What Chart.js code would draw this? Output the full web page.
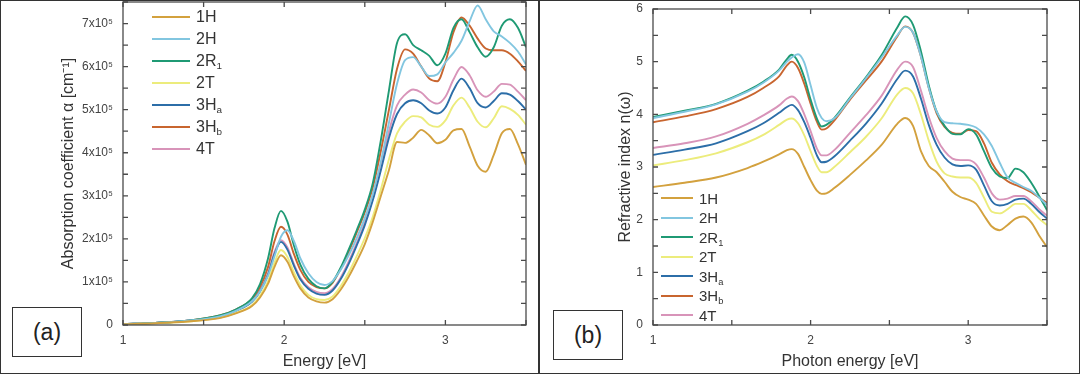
<!DOCTYPE html>
<html>
<head>
<meta charset="utf-8">
<script src="https://cdn.jsdelivr.net/npm/chart.js@4/dist/chart.umd.min.js"></script>
<style>
  body { margin: 0; background: #fff; font-family: "Liberation Sans", Arial, sans-serif; }
  #wrap { position: relative; width: 1080px; height: 374px; overflow: hidden; }
  canvas { position: absolute; top: 0; }
  .frame { position: absolute; top: 0; height: 374px; border: 1px solid #333; box-sizing: border-box; pointer-events: none; }
  .tag { position: absolute; border: 1.5px solid #333; box-sizing: border-box; font-size: 23px; color: #222;
         display: flex; align-items: center; justify-content: center; background: #fff; }
  .leg { position: absolute; color: #333; white-space: nowrap; }
  .leg .ln { position: absolute; height: 2px; }
  .leg .tx { position: absolute; line-height: 1; }
  .leg sub { font-size: 0.62em; vertical-align: -0.3em; }
</style>
</head>
<body>
<div id="wrap">
  <canvas id="chartA" width="539" height="374" style="left:0"></canvas>
  <canvas id="chartB" width="540" height="374" style="left:540px"></canvas>
  <div class="frame" style="left:0;width:539px"></div>
  <div class="frame" style="left:539px;width:541px"></div>
  <div class="tag" style="left:12px;top:307px;width:70px;height:50px">(a)</div>
  <div class="tag" style="left:553px;top:310px;width:70px;height:50px">(b)</div>
  <div id="legA"></div>
  <div id="legB"></div>
</div>
<script>
// ---------------- DATA ----------------

const seriesNames = ["1H", "2H", "2R<sub>1</sub>", "2T", "3H<sub>a</sub>", "3H<sub>b</sub>", "4T"];
const seriesColors = ["#d3a13e", "#82c6e0", "#1f9a74", "#ecec7c", "#2c6ea8", "#c8652f", "#d894b9"];

// (a) absorption coefficient, in units of 1e5 cm^-1
const energyA = [1.0, 1.2, 1.4, 1.6, 1.7, 1.8, 1.85, 1.9, 1.94, 1.98, 2.02, 2.06, 2.1, 2.15, 2.2, 2.25, 2.3, 2.35, 2.4, 2.45,
                 2.5, 2.55, 2.6, 2.65, 2.7, 2.75, 2.8, 2.85, 2.9, 2.95, 3.0, 3.05, 3.1, 3.15, 3.2, 3.25, 3.3, 3.35, 3.4, 3.45, 3.5];
const abs1H  = [0.02,0.04,0.08,0.16,0.27,0.44,0.64,0.96,1.35,1.62,1.47,1.13,0.85,0.64,0.55,0.52,0.6,0.82,1.12,1.48,
                1.88,2.4,3.0,3.6,4.25,4.23,4.35,4.53,4.4,4.22,4.3,4.52,4.55,4.15,3.7,3.56,3.95,4.45,4.55,4.2,3.72];
const abs2H  = [0.02,0.05,0.1,0.2,0.33,0.55,0.78,1.15,1.6,2.05,2.2,1.95,1.55,1.2,1.0,0.93,1.02,1.28,1.62,2.02,
                2.48,3.05,3.8,4.7,5.6,6.15,6.22,6.0,5.78,5.82,6.1,6.32,6.6,7.05,7.42,7.1,6.82,6.7,6.55,6.35,6.05];
const abs2R1 = [0.02,0.05,0.1,0.22,0.36,0.62,0.95,1.55,2.25,2.65,2.4,1.85,1.4,1.07,0.9,0.85,1.0,1.33,1.75,2.2,
                2.68,3.3,4.3,5.45,6.55,6.75,6.5,6.38,6.25,6.03,6.3,6.9,7.1,6.8,6.45,6.23,6.45,6.95,7.1,6.9,6.45];
const abs2T  = [0.02,0.04,0.08,0.17,0.28,0.46,0.68,1.02,1.45,1.74,1.58,1.22,0.92,0.7,0.6,0.58,0.66,0.9,1.22,1.6,
                2.02,2.52,3.15,3.85,4.45,4.72,4.85,4.82,4.65,4.6,4.75,5.1,5.28,5.05,4.72,4.59,4.8,5.08,5.02,4.88,4.65];
const abs3Ha = [0.02,0.05,0.1,0.2,0.33,0.54,0.78,1.17,1.65,1.93,1.75,1.38,1.06,0.84,0.73,0.7,0.8,1.06,1.42,1.85,
                2.32,2.9,3.6,4.35,4.9,5.15,5.22,5.15,4.98,4.91,5.05,5.45,5.72,5.5,5.15,5.05,5.2,5.38,5.35,5.2,5.0];
const abs3Hb = [0.02,0.05,0.1,0.22,0.36,0.6,0.88,1.35,1.95,2.28,2.1,1.65,1.28,1.0,0.88,0.85,0.98,1.3,1.7,2.15,
                2.62,3.2,4.05,5.0,5.95,6.4,6.3,6.0,5.72,5.66,6.1,6.8,7.14,6.95,6.65,6.42,6.38,6.38,6.3,6.12,5.9];
const abs4T  = [0.02,0.05,0.1,0.2,0.33,0.55,0.8,1.2,1.7,1.97,1.8,1.42,1.1,0.88,0.77,0.74,0.84,1.1,1.47,1.9,
                2.38,2.95,3.7,4.5,5.1,5.35,5.47,5.4,5.22,5.14,5.3,5.7,5.99,5.8,5.45,5.3,5.42,5.6,5.58,5.42,5.22];

// (b) refractive index
const energyB = [1.0, 1.2, 1.4, 1.6, 1.7, 1.8, 1.85, 1.88, 1.92, 1.96, 2.0, 2.04, 2.07, 2.1, 2.15, 2.25, 2.35, 2.45, 2.55,
                 2.6, 2.65, 2.7, 2.75, 2.8, 2.85, 2.9, 2.95, 3.0, 3.05, 3.1, 3.15, 3.2, 3.25, 3.3, 3.35, 3.4, 3.45, 3.5];
const n1H  = [2.62,2.7,2.8,2.98,3.1,3.24,3.32,3.34,3.25,3.0,2.75,2.55,2.49,2.5,2.6,2.85,3.12,3.42,3.82,
              3.93,3.78,3.3,3.02,2.9,2.72,2.53,2.43,2.38,2.3,2.08,1.87,1.8,1.9,2.02,2.06,1.95,1.7,1.48];
const n2H  = [3.93,4.05,4.19,4.43,4.6,4.83,5.0,5.08,5.14,4.98,4.55,4.12,3.93,3.87,3.92,4.3,4.68,5.08,5.5,
              5.66,5.55,5.1,4.5,4.05,3.85,3.83,3.82,3.8,3.75,3.62,3.4,3.08,2.8,2.7,2.62,2.55,2.42,2.28];
const n2R1 = [3.95,4.07,4.2,4.45,4.62,4.85,5.05,5.13,5.0,4.7,4.28,3.92,3.77,3.8,3.93,4.32,4.7,5.12,5.65,
              5.86,5.7,5.2,4.55,4.05,3.78,3.63,3.62,3.72,3.62,3.3,2.98,2.82,2.79,2.97,2.9,2.7,2.45,2.18];
const n2T  = [3.03,3.13,3.26,3.47,3.61,3.8,3.9,3.92,3.83,3.6,3.3,3.02,2.9,2.9,3.0,3.28,3.57,3.92,4.38,
              4.5,4.4,4.0,3.5,3.1,2.88,2.82,2.8,2.8,2.7,2.42,2.15,2.12,2.2,2.3,2.3,2.18,2.02,1.9];
const n3Ha = [3.23,3.33,3.45,3.68,3.83,4.03,4.14,4.18,4.08,3.85,3.55,3.22,3.09,3.1,3.2,3.5,3.82,4.2,4.67,
              4.83,4.72,4.3,3.8,3.42,3.18,3.05,3.02,3.03,2.95,2.65,2.35,2.27,2.3,2.38,2.4,2.3,2.15,2.02];
const n3Hb = [3.85,3.96,4.1,4.33,4.5,4.72,4.93,5.0,4.88,4.58,4.2,3.86,3.71,3.73,3.88,4.28,4.64,5.0,5.48,
              5.67,5.55,5.1,4.5,4.02,3.76,3.65,3.63,3.7,3.68,3.45,3.08,2.86,2.73,2.66,2.6,2.52,2.42,2.32];
const n4T  = [3.36,3.45,3.58,3.82,3.98,4.17,4.3,4.34,4.25,4.0,3.68,3.35,3.22,3.22,3.32,3.65,3.98,4.35,4.85,
              5.0,4.9,4.45,3.95,3.55,3.3,3.16,3.13,3.13,3.05,2.8,2.5,2.38,2.4,2.45,2.45,2.35,2.2,2.08];

const seriesA = [abs1H, abs2H, abs2R1, abs2T, abs3Ha, abs3Hb, abs4T];
const seriesB = [n1H, n2H, n2R1, n2T, n3Ha, n3Hb, n4T];

// ---------------- HELPERS ----------------

// frame around the plot + inward ticks on all four sides
const boxTicks = {
    id: "boxTicks",
    afterDraw(chart) {
        const { ctx, chartArea: a, scales: { x, y } } = chart;
        ctx.save();
        ctx.strokeStyle = "#4a4a4a";
        ctx.lineWidth = 1.3;
        ctx.strokeRect(a.left, a.top, a.right - a.left, a.bottom - a.top);
        ctx.beginPath();
        x.ticks.forEach(t => {
            const px = x.getPixelForValue(t.value);
            ctx.moveTo(px, a.bottom); ctx.lineTo(px, a.bottom - 5);
            ctx.moveTo(px, a.top); ctx.lineTo(px, a.top + 5);
        });
        y.ticks.forEach(t => {
            const py = y.getPixelForValue(t.value);
            ctx.moveTo(a.left, py); ctx.lineTo(a.left + 5, py);
            ctx.moveTo(a.right, py); ctx.lineTo(a.right - 5, py);
        });
        ctx.stroke();
        ctx.restore();
    }
};

function makeDatasets(xs, series) {
    return series.map((ys, i) => ({
        label: seriesNames[i],
        data: xs.map((e, j) => ({ x: e, y: ys[j] })),
        borderColor: seriesColors[i],
        borderWidth: 1.9,
        pointRadius: 0,
        fill: false,
        cubicInterpolationMode: "monotone"
    }));
}

const tickFont = { family: "'Liberation Sans', Arial, sans-serif", size: 12 };
const titleFont = { family: "'Liberation Sans', Arial, sans-serif", size: 16 };

function makeChart(id, xs, series, opts) {
    return new Chart(document.getElementById(id), {
        type: "line",
        data: { datasets: makeDatasets(xs, series) },
        options: {
            responsive: false,
            animation: false,
            layout: { padding: opts.padding },
            plugins: { legend: { display: false }, tooltip: { enabled: false } },
            scales: {
                x: {
                    type: "linear", min: 1, max: 3.5,
                    grid: { display: false, drawTicks: false },
                    border: { display: false },
                    ticks: { stepSize: 0.5, autoSkip: false, padding: 8, color: "#444", font: tickFont,
                             callback: v => Number.isInteger(v) ? String(v) : "" },
                    title: { display: true, text: opts.xTitle, color: "#333", font: titleFont, padding: { top: 0, bottom: 3 } },
                    afterFit: s => { s.height = 49; s.paddingLeft = 0; s.paddingRight = 0; }
                },
                y: {
                    min: 0, max: opts.yMax,
                    grid: { display: false, drawTicks: false },
                    border: { display: false },
                    ticks: { stepSize: 0.5, autoSkip: false, padding: 10, color: "#444", font: tickFont,
                             callback: opts.yLabel },
                    title: { display: true, text: opts.yTitle, color: "#333", font: titleFont, padding: { top: opts.yTitlePad, bottom: 0 } },
                    afterFit: s => { s.width = opts.yWidth; s.paddingTop = 0; s.paddingBottom = 0; }
                }
            }
        },
        plugins: [boxTicks]
    });
}

function buildLegend(id, left, top, step, fontSize, lineW) {
    const box = document.getElementById(id);
    seriesNames.forEach((name, i) => {
        const row = document.createElement("div");
        row.className = "leg";
        row.style.left = left + "px";
        row.style.top = (top + i * step) + "px";
        row.style.fontSize = fontSize + "px";
        row.innerHTML = `<div class="ln" style="left:0;top:-1px;width:${lineW}px;background:${seriesColors[i]}"></div>` +
                        `<div class="tx" style="left:${lineW + 6}px;top:${-fontSize * 0.5}px">${name}</div>`;
        box.appendChild(row);
    });
}

// ---------------- CHARTS ----------------

makeChart("chartA", energyA, seriesA, {
    padding: { left: 0, top: 2, right: 13, bottom: 0 },
    yMax: 7.5, yWidth: 123, yTitlePad: 59,
    xTitle: "Energy [eV]",
    yTitle: "Absorption coefficient α [cm⁻¹]",
    yLabel: v => v === 0 ? "0" : (Number.isInteger(v) ? v + "x10⁵" : "")
});

makeChart("chartB", energyB, seriesB, {
    padding: { left: 0, top: 9, right: 33, bottom: 0 },
    yMax: 6, yWidth: 113, yTitlePad: 76,
    xTitle: "Photon energy [eV]",
    yTitle: "Refractive index n(ω)",
    yLabel: v => Number.isInteger(v) ? String(v) : ""
});

buildLegend("legA", 152, 17, 22, 16, 38);
buildLegend("legB", 661, 198, 19.5, 15, 32);
</script>
</body>
</html>
